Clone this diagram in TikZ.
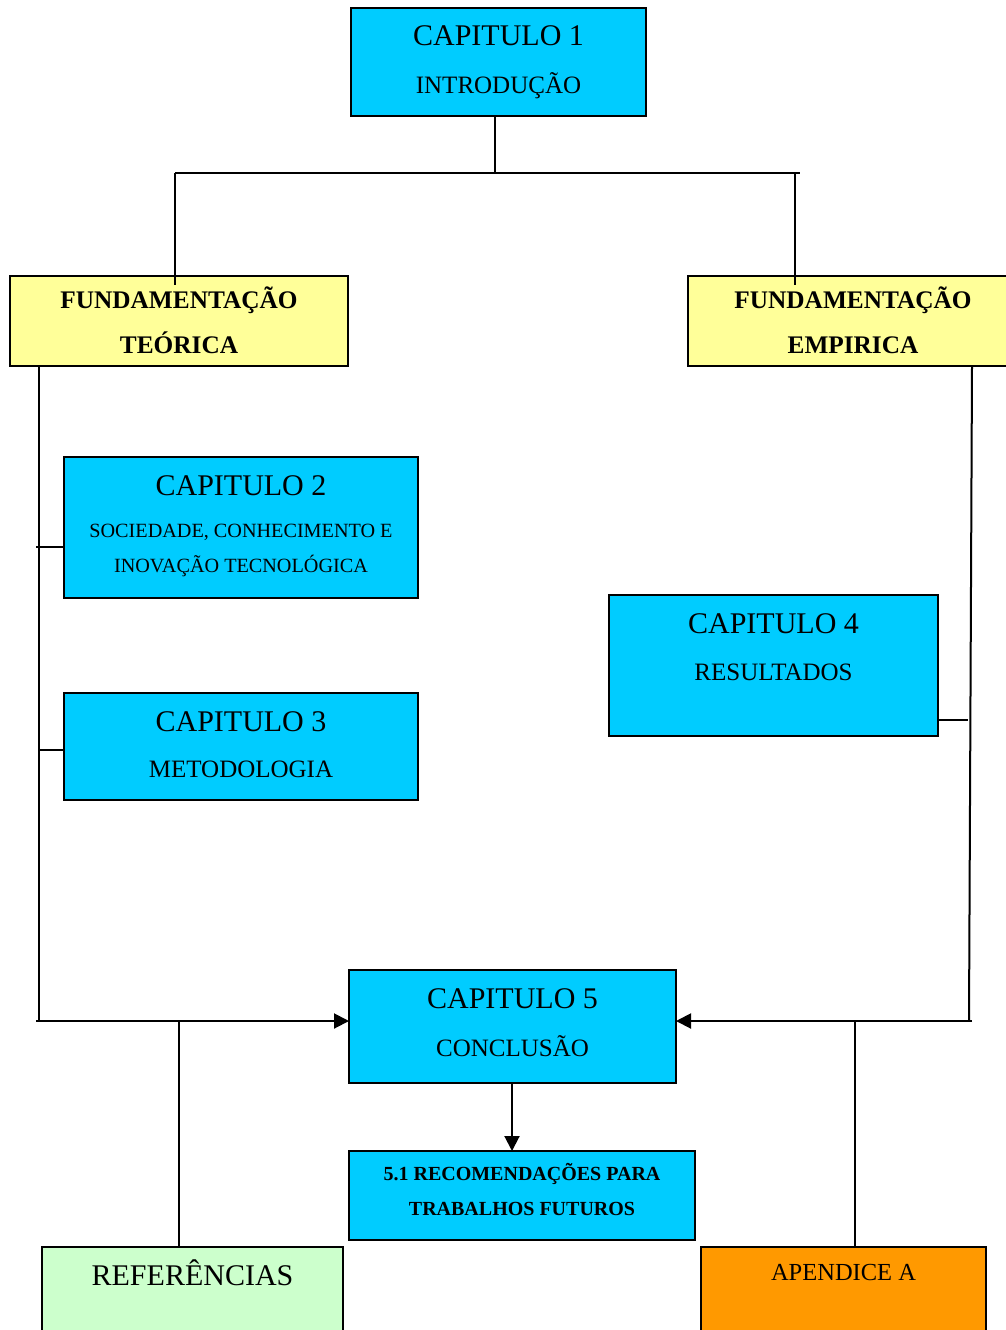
\documentclass[tikz,border=0pt]{standalone}
\usepackage{fontspec}
\setmainfont{Liberation Serif}
\usetikzlibrary{arrows.meta}
\definecolor{chapblue}{HTML}{00CCFF}
\definecolor{partyellow}{HTML}{FFFF99}
\definecolor{refgreen}{HTML}{CCFFCC}
\definecolor{apporange}{HTML}{FF9900}
\begin{document}
\begin{tikzpicture}[x=1pt,y=-1pt,
  box/.style={draw=black, line width=2.2pt, inner sep=0pt, outer sep=0pt, anchor=north west},
  chapbox/.style={box, fill=chapblue},
  partbox/.style={box, fill=partyellow},
  txt/.style={anchor=base, inner sep=0pt},
  big/.style={txt, font=\fontsize{30}{30}\selectfont},
  mid/.style={txt, font=\fontsize{25}{25}\selectfont},
  small/.style={txt, font=\fontsize{20.2}{20.2}\selectfont},
  boldtxt/.style={txt, font=\fontsize{25.3}{25.3}\selectfont\bfseries},
  conn/.style={line width=2pt, draw=black},
  arr/.style={conn, -{Triangle[length=15pt,width=15pt]}}
]
\useasboundingbox (0,0) rectangle (1006,1330);

% boxes
\node[chapbox, minimum width=295pt, minimum height=108pt] (c1) at (351,8) {};
\node[partbox, minimum width=338pt, minimum height=90pt] (ft) at (10,276) {};
\node[partbox, minimum width=330pt, minimum height=90pt] (fe) at (688,276) {};
\node[chapbox, minimum width=354pt, minimum height=141pt] (c2) at (64,457) {};
\node[chapbox, minimum width=354pt, minimum height=107pt] (c3) at (64,693) {};
\node[chapbox, minimum width=329pt, minimum height=141pt] (c4) at (609,595) {};
\node[chapbox, minimum width=327pt, minimum height=113pt] (c5) at (349,970) {};
\node[chapbox, minimum width=346pt, minimum height=89pt] (r51) at (349,1151) {};
\node[box, fill=refgreen, minimum width=301pt, minimum height=110pt] (ref) at (42,1247) {};
\node[box, fill=apporange, minimum width=285pt, minimum height=110pt] (ap) at (701,1247) {};

% texts
\node[big] (c1a) at (498.5,46) {CAPITULO 1};
\node[mid] (c1b) at (498.5,93) {INTRODUÇÃO};
\node[boldtxt] (fta) at (179,308) {FUNDAMENTAÇÃO};
\node[boldtxt] (ftb) at (179,353) {TEÓRICA};
\node[boldtxt] (fea) at (853,308) {FUNDAMENTAÇÃO};
\node[boldtxt] (feb) at (853,353) {EMPIRICA};
\node[big] (c2a) at (241,495) {CAPITULO 2};
\node[small] (c2b) at (241,537) {SOCIEDADE, CONHECIMENTO E};
\node[small] (c2c) at (241,572) {INOVAÇÃO TECNOLÓGICA};
\node[big] (c3a) at (241,731) {CAPITULO 3};
\node[mid] (c3b) at (241,777) {METODOLOGIA};
\node[big] (c4a) at (773.5,633) {CAPITULO 4};
\node[mid] (c4b) at (773.5,680) {RESULTADOS};
\node[big] (c5a) at (512.5,1008) {CAPITULO 5};
\node[mid] (c5b) at (512.5,1056) {CONCLUSÃO};
\node[txt, font=\fontsize{20}{20}\selectfont\bfseries] (r51a) at (522,1180) {5.1 RECOMENDAÇÕES PARA};
\node[txt, font=\fontsize{20}{20}\selectfont\bfseries] (r51b) at (522,1215) {TRABALHOS FUTUROS};
\node[big] (refa) at (192.5,1285) {REFERÊNCIAS};
\node[txt, font=\fontsize{24.5}{24.5}\selectfont] (apa) at (843.5,1280) {APENDICE A};

% junction points
\coordinate (top) at (495,173);
\coordinate (topl) at (175,173);
\coordinate (topr) at (800,173);
\coordinate (ftin) at (175,285);
\coordinate (fein) at (795,285);
\coordinate (lbtop) at (39,366);
\coordinate (lbbot) at (39,1021);
\coordinate (lbend) at (36,1021);
\coordinate (rbtop) at (972,366);
\coordinate (rbbot) at (969,1021);
\coordinate (rbend) at (972,1021);
\coordinate (t2) at (36,547);
\coordinate (t3) at (39,750);
\coordinate (t4) at (968,720);
\coordinate (refj) at (179,1021);
\coordinate (apj) at (855,1021);

% connectors
\draw[conn] (c1.south -| top) -- (top);
\draw[conn] (topl) -- (topr);
\draw[conn] (topl) -- (ftin);
\draw[conn] (topl -| fein) -- (fein);
\draw[conn] (lbtop) -- (lbbot);
\draw[conn] (rbtop) -- (rbbot);
\draw[conn] (t2) -- (t2 -| c2.west);
\draw[conn] (t3) -- (t3 -| c3.west);
\draw[conn] (t4 -| c4.east) -- (t4);
\draw[arr] (lbend) -- (c5.west |- lbend);
\draw[arr] (rbend) -- (c5.east |- rbend);
\draw[arr] (c5.south -| 512,0) -- (r51.north -| 512,0);
\draw[conn] (refj) -- (ref.north -| refj);
\draw[conn] (apj) -- (ap.north -| apj);
\end{tikzpicture}
\end{document}
